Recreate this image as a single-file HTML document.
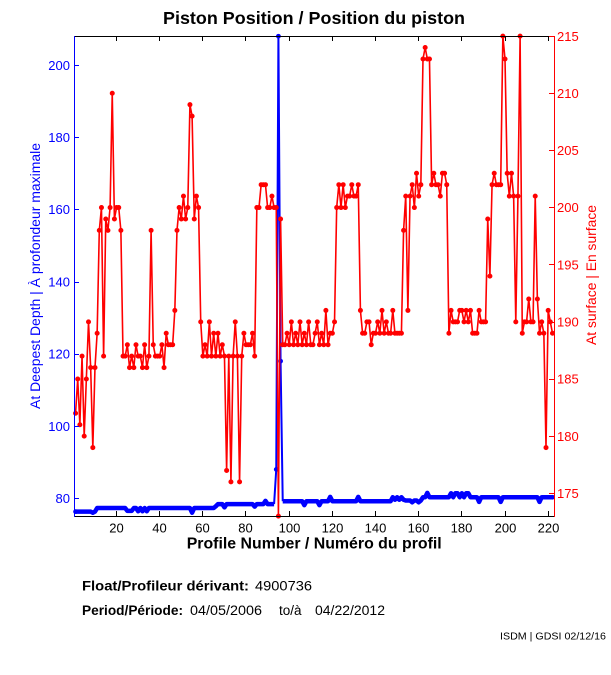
<!DOCTYPE html>
<html>
<head>
<meta charset="utf-8">
<style>
html,body{margin:0;padding:0;background:#fff;}
svg{display:block;}
text{font-family:"Liberation Sans",Arial,Helvetica,sans-serif;}
</style>
</head>
<body>
<svg width="611" height="675" viewBox="0 0 611 675" xmlns="http://www.w3.org/2000/svg">
<rect x="0" y="0" width="611" height="675" fill="#fff"/>

<!-- Title -->
<text x="163" y="24" font-size="17.5" font-weight="bold" textLength="302" lengthAdjust="spacingAndGlyphs" fill="#000">Piston Position / Position du piston</text>

<!-- Blue series (left axis) -->
<g transform="matrix(2.158 0 0 -3.61 73.4 787.1)" fill="none" stroke="#0000ff" stroke-linejoin="round">
<polyline vector-effect="non-scaling-stroke" stroke-width="4.5" points="1,76.3 8,76.3 9,76 10,76.3 11,77.3 24,77.3 25,76.5 27,76.5 28,77.3 29,77.3 30,76.4 31,77.3 32,76.4 33,77.3 34,76.4 35,77.3 54,77.3 55,76 56,77.3 65,77.3 66,77.8 67,78.4 69,78.4 70,77.5 71,78.4 83,78.4 84,77.7 85,78.4 88,78.4 89,79.3 90,78.4 93,78.4"/>
<polyline vector-effect="non-scaling-stroke" stroke-width="4.5" points="97,79.2 106,79.2 107,78.1 108,79.2 113,79.2 114,78.1 115,79.2 118,79.2 119,80.4 120,79.2 131,79.2 132,80.4 133,79.2 147,79.2 148,80.3 149,79.6 150,80.3 151,79.6 152,80.3 153,79.6 154,79.4 156,79.4 157,78.9 158,79.4 159,79.4 160,78.9 161,79.4 162,80.3 163,80.3 164,81.5 165,80.3 174,80.3 175,81.4 176,80.3 177,81.4 178,81.4 179,80.3 180,81.4 181,80.3 182,81.4 183,81.4 184,80.3 187,80.3 188,79 189,80.3 197,80.3 198,79 199,80.3 215,80.3 216,79 217,80.3 222,80.3"/>
<polyline vector-effect="non-scaling-stroke" stroke-width="2" points="93,78.4 94,88 95,208 96,118 97,79.2"/>
<path vector-effect="non-scaling-stroke" stroke-width="4.8" stroke-linecap="round" d="M1 76.3h.01M94 88h.01M95 208h.01M96 118h.01M222 80.3h.01"/>
</g>

<!-- Red series (right axis) -->
<g transform="matrix(2.158 0 0 -11.43 73.4 2493.55)" fill="none" stroke="#ff0000" stroke-linejoin="round">
<polyline vector-effect="non-scaling-stroke" stroke-width="1.6" points="1,182 2,185 3,181 4,187 5,180 6,185 7,190 8,186 9,179 10,186 11,189 12,198 13,200 14,187 15,199 16,198 17,200 18,210 19,199 20,200 21,200 22,198 23,187 24,187 25,188 26,186 27,187 28,186 29,188 30,187 31,187 32,186 33,188 34,186 35,187 36,198 37,188 38,187 39,187 40,187 41,188 42,186 43,189 44,188 45,188 46,188 47,191 48,198 49,200 50,199 51,201 52,199 53,200 54,209 55,208 56,199 57,201 58,200 59,190 60,187 61,188 62,187 63,190 64,187 65,189 66,187 67,189 68,187 69,188 70,187 71,177 72,187 73,176 74,187 75,190 76,187 77,176 78,187 79,189 80,188 81,188 82,188 83,189 84,187 85,200 86,200 87,202 88,202 89,202 90,200 91,200 92,201 93,200 94,200 95,173 96,199 97,188 98,188 99,189 100,188 101,190 102,188 103,189 104,188 105,190 106,188 107,189 108,188 109,190 110,188 111,188 112,189 113,190 114,188 115,189 116,188 117,191 118,188 119,189 120,189 121,190 122,200 123,202 124,200 125,202 126,200 127,201 128,201 129,202 130,201 131,201 132,202 133,191 134,189 135,189 136,190 137,190 138,188 139,189 140,189 141,190 142,189 143,191 144,189 145,190 146,189 147,189 148,191 149,189 150,189 151,189 152,189 153,198 154,201 155,191 156,201 157,202 158,200 159,203 160,201 161,202 162,213 163,214 164,213 165,213 166,202 167,203 168,202 169,202 170,201 171,203 172,203 173,202 174,189 175,191 176,190 177,190 178,190 179,191 180,191 181,190 182,191 183,190 184,191 185,189 186,189 187,189 188,191 189,190 190,190 191,190 192,199 193,194 194,202 195,203 196,202 197,202 198,202 199,215 200,213 201,203 202,201 203,203 204,201 205,190 206,201 207,215 208,189 209,190 210,190 211,192 212,190 213,190 214,201 215,192 216,189 217,190 218,189 219,179 220,191 221,190 222,189"/>
<path vector-effect="non-scaling-stroke" stroke-width="5" stroke-linecap="round" d="M1 182h.01M2 185h.01M3 181h.01M4 187h.01M5 180h.01M6 185h.01M7 190h.01M8 186h.01M9 179h.01M10 186h.01M11 189h.01M12 198h.01M13 200h.01M14 187h.01M15 199h.01M16 198h.01M17 200h.01M18 210h.01M19 199h.01M20 200h.01M21 200h.01M22 198h.01M23 187h.01M24 187h.01M25 188h.01M26 186h.01M27 187h.01M28 186h.01M29 188h.01M30 187h.01M31 187h.01M32 186h.01M33 188h.01M34 186h.01M35 187h.01M36 198h.01M37 188h.01M38 187h.01M39 187h.01M40 187h.01M41 188h.01M42 186h.01M43 189h.01M44 188h.01M45 188h.01M46 188h.01M47 191h.01M48 198h.01M49 200h.01M50 199h.01M51 201h.01M52 199h.01M53 200h.01M54 209h.01M55 208h.01M56 199h.01M57 201h.01M58 200h.01M59 190h.01M60 187h.01M61 188h.01M62 187h.01M63 190h.01M64 187h.01M65 189h.01M66 187h.01M67 189h.01M68 187h.01M69 188h.01M70 187h.01M71 177h.01M72 187h.01M73 176h.01M74 187h.01M75 190h.01M76 187h.01M77 176h.01M78 187h.01M79 189h.01M80 188h.01M81 188h.01M82 188h.01M83 189h.01M84 187h.01M85 200h.01M86 200h.01M87 202h.01M88 202h.01M89 202h.01M90 200h.01M91 200h.01M92 201h.01M93 200h.01M94 200h.01M95 173h.01M96 199h.01M97 188h.01M98 188h.01M99 189h.01M100 188h.01M101 190h.01M102 188h.01M103 189h.01M104 188h.01M105 190h.01M106 188h.01M107 189h.01M108 188h.01M109 190h.01M110 188h.01M111 188h.01M112 189h.01M113 190h.01M114 188h.01M115 189h.01M116 188h.01M117 191h.01M118 188h.01M119 189h.01M120 189h.01M121 190h.01M122 200h.01M123 202h.01M124 200h.01M125 202h.01M126 200h.01M127 201h.01M128 201h.01M129 202h.01M130 201h.01M131 201h.01M132 202h.01M133 191h.01M134 189h.01M135 189h.01M136 190h.01M137 190h.01M138 188h.01M139 189h.01M140 189h.01M141 190h.01M142 189h.01M143 191h.01M144 189h.01M145 190h.01M146 189h.01M147 189h.01M148 191h.01M149 189h.01M150 189h.01M151 189h.01M152 189h.01M153 198h.01M154 201h.01M155 191h.01M156 201h.01M157 202h.01M158 200h.01M159 203h.01M160 201h.01M161 202h.01M162 213h.01M163 214h.01M164 213h.01M165 213h.01M166 202h.01M167 203h.01M168 202h.01M169 202h.01M170 201h.01M171 203h.01M172 203h.01M173 202h.01M174 189h.01M175 191h.01M176 190h.01M177 190h.01M178 190h.01M179 191h.01M180 191h.01M181 190h.01M182 191h.01M183 190h.01M184 191h.01M185 189h.01M186 189h.01M187 189h.01M188 191h.01M189 190h.01M190 190h.01M191 190h.01M192 199h.01M193 194h.01M194 202h.01M195 203h.01M196 202h.01M197 202h.01M198 202h.01M199 215h.01M200 213h.01M201 203h.01M202 201h.01M203 203h.01M204 201h.01M205 190h.01M206 201h.01M207 215h.01M208 189h.01M209 190h.01M210 190h.01M211 192h.01M212 190h.01M213 190h.01M214 201h.01M215 192h.01M216 189h.01M217 190h.01M218 189h.01M219 179h.01M220 191h.01M221 190h.01M222 189h.01"/>
</g>

<!-- Axes box -->
<line x1="74" y1="36.5" x2="555" y2="36.5" stroke="#000" stroke-width="1"/>
<line x1="74" y1="516.5" x2="555" y2="516.5" stroke="#000" stroke-width="1"/>
<line x1="74.5" y1="36" x2="74.5" y2="517" stroke="#0000ff" stroke-width="1"/>
<line x1="554.5" y1="36" x2="554.5" y2="517" stroke="#ff0000" stroke-width="1"/>

<!-- X ticks (top and bottom) -->
<g stroke="#000" stroke-width="1">
<path d="M116.5 36v5M159.5 36v5M202.5 36v5M245.5 36v5M289.5 36v5M332.5 36v5M375.5 36v5M418.5 36v5M461.5 36v5M505.5 36v5M548.5 36v5"/>
<path d="M116.5 516v-5M159.5 516v-5M202.5 516v-5M245.5 516v-5M289.5 516v-5M332.5 516v-5M375.5 516v-5M418.5 516v-5M461.5 516v-5M505.5 516v-5M548.5 516v-5"/>
</g>
<g font-size="13" fill="#000" text-anchor="middle">
<text x="116.5" y="532.5">20</text>
<text x="159.5" y="532.5">40</text>
<text x="202.5" y="532.5">60</text>
<text x="245.5" y="532.5">80</text>
<text x="289.5" y="532.5">100</text>
<text x="332.5" y="532.5">120</text>
<text x="375.5" y="532.5">140</text>
<text x="418.5" y="532.5">160</text>
<text x="461.5" y="532.5">180</text>
<text x="505.5" y="532.5">200</text>
<text x="548.5" y="532.5">220</text>
</g>

<!-- Left ticks -->
<path d="M74 498.5h5M74 426.5h5M74 354.5h5M74 282.5h5M74 209.5h5M74 137.5h5M74 65.5h5" stroke="#0000ff" stroke-width="1"/>
<g font-size="13" fill="#0000ff" text-anchor="end">
<text x="70" y="503">80</text>
<text x="70" y="430.8">100</text>
<text x="70" y="358.6">120</text>
<text x="70" y="286.4">140</text>
<text x="70" y="214.2">160</text>
<text x="70" y="142">180</text>
<text x="70" y="69.8">200</text>
</g>

<!-- Right ticks -->
<path d="M549 493.5h6M549 436.5h6M549 379.5h6M549 322.5h6M549 264.5h6M549 207.5h6M549 150.5h6M549 93.5h6M549 36.5h6" stroke="#ff0000" stroke-width="1"/>
<g font-size="13" fill="#ff0000">
<text x="557" y="498">175</text>
<text x="557" y="440.8">180</text>
<text x="557" y="383.7">185</text>
<text x="557" y="326.5">190</text>
<text x="557" y="269.4">195</text>
<text x="557" y="212.2">200</text>
<text x="557" y="155.1">205</text>
<text x="557" y="97.9">210</text>
<text x="557" y="40.8">215</text>
</g>

<!-- Axis titles -->
<text x="186.7" y="548.5" font-size="16" font-weight="bold" fill="#000" textLength="255" lengthAdjust="spacingAndGlyphs">Profile Number / Numéro du profil</text>
<text transform="translate(40,276) rotate(-90)" x="0" y="0" font-size="13.5" fill="#0000ff" text-anchor="middle" textLength="266" lengthAdjust="spacingAndGlyphs">At Deepest Depth | À profondeur maximale</text>
<text transform="translate(596,275) rotate(-90)" x="0" y="0" font-size="13.5" fill="#ff0000" text-anchor="middle" textLength="140" lengthAdjust="spacingAndGlyphs">At surface | En surface</text>

<!-- Footer info -->
<text x="82" y="590.7" font-size="13.5" font-weight="bold" fill="#000" textLength="167" lengthAdjust="spacingAndGlyphs">Float/Profileur dérivant:</text>
<text x="255" y="590.7" font-size="13.5" fill="#000" textLength="57" lengthAdjust="spacingAndGlyphs">4900736</text>
<text x="82" y="615" font-size="13.5" font-weight="bold" fill="#000" textLength="101" lengthAdjust="spacingAndGlyphs">Period/Période:</text>
<text x="190" y="615" font-size="13.5" fill="#000" textLength="72" lengthAdjust="spacingAndGlyphs">04/05/2006</text>
<text x="279" y="615" font-size="13.5" fill="#000">to/à</text>
<text x="315" y="615" font-size="13.5" fill="#000" textLength="70" lengthAdjust="spacingAndGlyphs">04/22/2012</text>
<text x="500" y="639.5" font-size="10" fill="#000" textLength="106" lengthAdjust="spacingAndGlyphs">ISDM | GDSI 02/12/16</text>
</svg>
</body>
</html>
